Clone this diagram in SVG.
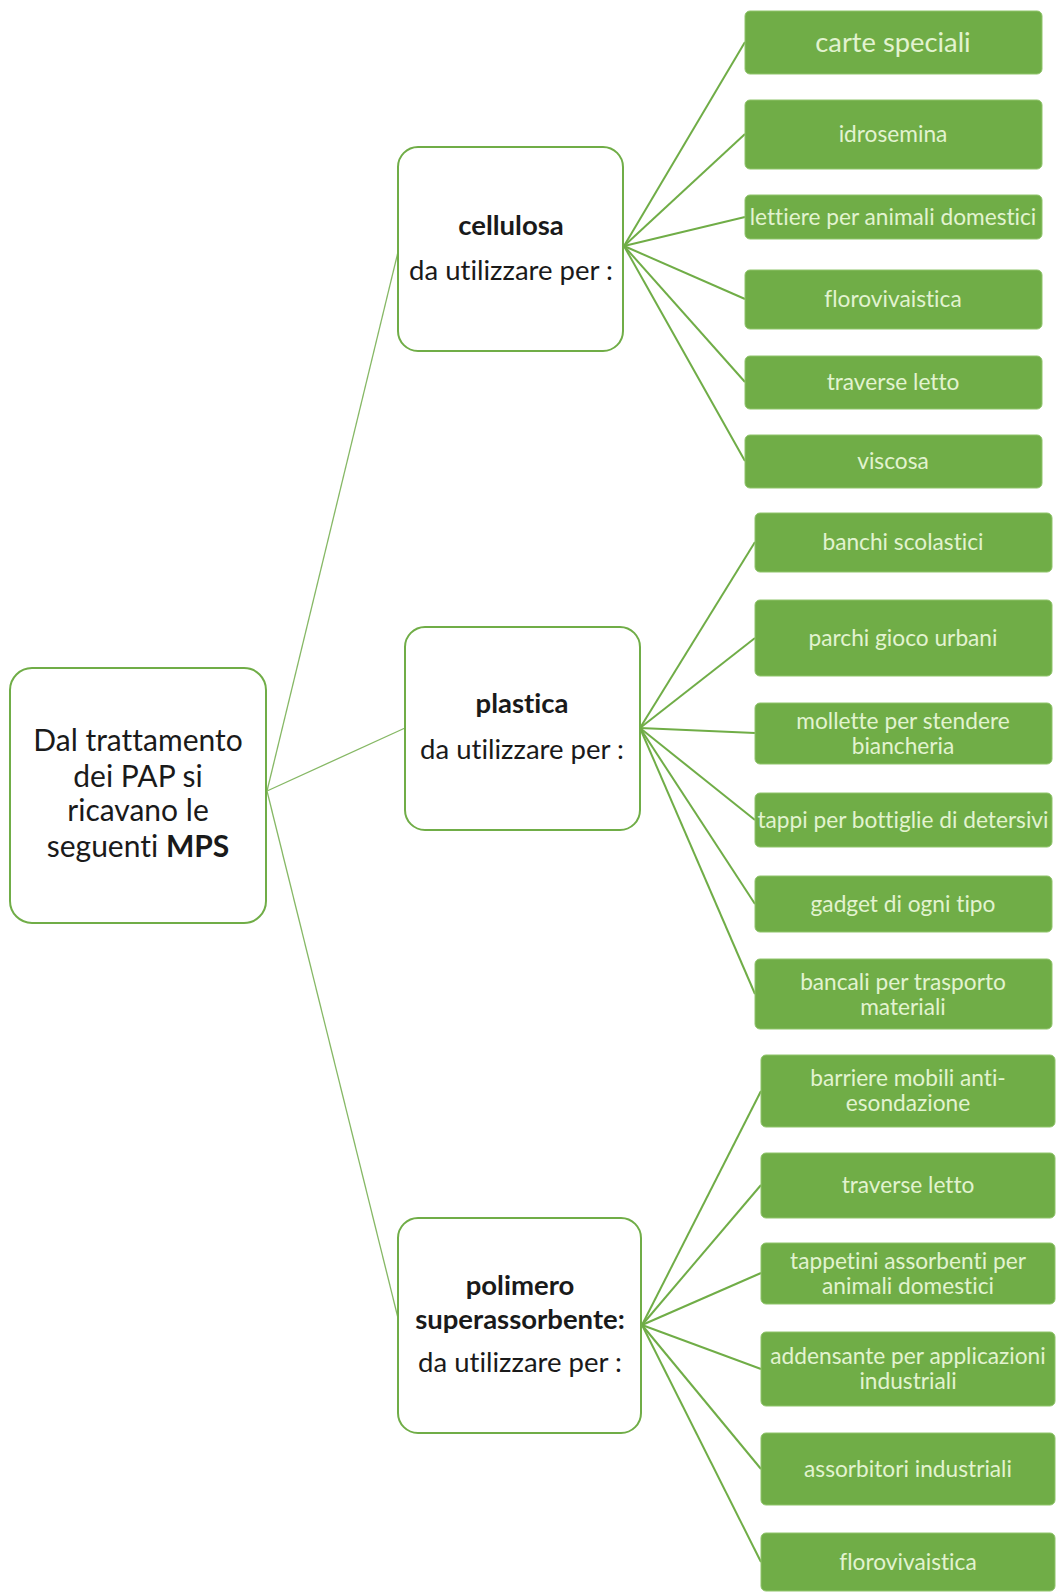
<svg xmlns="http://www.w3.org/2000/svg" width="1056" height="1593" viewBox="0 0 1056 1593">
<style>
.wb{fill:#ffffff;stroke:#70ad47;stroke-width:2}
.gb{fill:#70ad47;stroke:#8fc46a;stroke-width:1}
.bt{font-family:Lato,"Liberation Sans",sans-serif;fill:#1a1a1a;text-anchor:middle;font-variant-ligatures:none;font-size:27.5px}
.gt{font-family:Lato,"Liberation Sans",sans-serif;fill:#e2f3d0;text-anchor:middle;font-size:22.7px;font-variant-ligatures:none}
.b{font-weight:bold}
.rl{stroke:#86b865;stroke-width:1.3;fill:none}
.cl{stroke:#70ad47;stroke-width:2;fill:none}
</style>
<rect width="1056" height="1593" fill="#ffffff"/>
<g id="connectors">
<line class="rl" x1="267" y1="791" x2="398" y2="252"/>
<line class="rl" x1="267" y1="791" x2="405" y2="728"/>
<line class="rl" x1="267" y1="791" x2="398" y2="1318"/>
<line class="cl" x1="624" y1="246" x2="745" y2="42"/>
<line class="cl" x1="624" y1="246" x2="745" y2="134"/>
<line class="cl" x1="624" y1="246" x2="745" y2="217"/>
<line class="cl" x1="624" y1="246" x2="745" y2="299"/>
<line class="cl" x1="624" y1="246" x2="745" y2="382"/>
<line class="cl" x1="624" y1="246" x2="745" y2="461"/>
<line class="cl" x1="640" y1="728" x2="755" y2="542"/>
<line class="cl" x1="640" y1="728" x2="755" y2="638"/>
<line class="cl" x1="640" y1="728" x2="755" y2="733"/>
<line class="cl" x1="640" y1="728" x2="755" y2="820"/>
<line class="cl" x1="640" y1="728" x2="755" y2="904"/>
<line class="cl" x1="640" y1="728" x2="755" y2="994"/>
<line class="cl" x1="642" y1="1325" x2="761" y2="1091"/>
<line class="cl" x1="642" y1="1325" x2="761" y2="1185"/>
<line class="cl" x1="642" y1="1325" x2="761" y2="1273"/>
<line class="cl" x1="642" y1="1325" x2="761" y2="1369"/>
<line class="cl" x1="642" y1="1325" x2="761" y2="1469"/>
<line class="cl" x1="642" y1="1325" x2="761" y2="1562"/>
</g>
<g id="root">
<rect class="wb" x="10" y="668" width="256" height="255" rx="22"/>
<text class="bt" style="font-size:30px"><tspan x="138" y="751">Dal trattamento</tspan><tspan x="138" y="787">dei PAP si</tspan><tspan x="138" y="821">ricavano le</tspan><tspan x="138" y="857">seguenti <tspan class="b">MPS</tspan></tspan></text>
</g>
<g id="cellulosa">
<rect class="wb" x="398" y="147" width="225" height="204" rx="20"/>
<text class="bt b" x="511" y="235">cellulosa</text>
<text class="bt" x="511" y="280">da utilizzare per :</text>
</g>
<g id="plastica">
<rect class="wb" x="405" y="627" width="235" height="203" rx="20"/>
<text class="bt b" x="522" y="713">plastica</text>
<text class="bt" x="522" y="759">da utilizzare per :</text>
</g>
<g id="polimero">
<rect class="wb" x="398" y="1218" width="243" height="215" rx="20"/>
<text class="bt b" x="520" y="1295">polimero</text>
<text class="bt b" x="520" y="1329">superassorbente:</text>
<text class="bt" x="520" y="1372">da utilizzare per :</text>
</g>
<g id="c1"><rect class="gb" x="745" y="11" width="297" height="63" rx="5"/><text class="gt" style="font-size:27.3px" x="893" y="52">carte speciali</text></g>
<g id="c2"><rect class="gb" x="745" y="100" width="297" height="69" rx="5"/><text class="gt" x="893" y="142">idrosemina</text></g>
<g id="c3"><rect class="gb" x="745" y="195" width="297" height="44" rx="5"/><text class="gt" x="893" y="225">lettiere per animali domestici</text></g>
<g id="c4"><rect class="gb" x="745" y="270" width="297" height="59" rx="5"/><text class="gt" x="893" y="307">florovivaistica</text></g>
<g id="c5"><rect class="gb" x="745" y="356" width="297" height="53" rx="5"/><text class="gt" x="893" y="390">traverse letto</text></g>
<g id="c6"><rect class="gb" x="745" y="435" width="297" height="53" rx="5"/><text class="gt" x="893" y="469">viscosa</text></g>
<g id="p1"><rect class="gb" x="755" y="513" width="297" height="59" rx="5"/><text class="gt" x="903" y="550">banchi scolastici</text></g>
<g id="p2"><rect class="gb" x="755" y="600" width="297" height="76" rx="5"/><text class="gt" x="903" y="646">parchi gioco urbani</text></g>
<g id="p3"><rect class="gb" x="755" y="703" width="297" height="61" rx="5"/><text class="gt" x="903" y="729">mollette per stendere</text><text class="gt" x="903" y="754">biancheria</text></g>
<g id="p4"><rect class="gb" x="755" y="793" width="297" height="54" rx="5"/><text class="gt" x="903" y="828">tappi per bottiglie di detersivi</text></g>
<g id="p5"><rect class="gb" x="755" y="876" width="297" height="56" rx="5"/><text class="gt" x="903" y="912">gadget di ogni tipo</text></g>
<g id="p6"><rect class="gb" x="755" y="959" width="297" height="70" rx="5"/><text class="gt" x="903" y="990">bancali per trasporto</text><text class="gt" x="903" y="1015">materiali</text></g>
<g id="s1"><rect class="gb" x="761" y="1055" width="294" height="72" rx="5"/><text class="gt" x="908" y="1086">barriere mobili anti-</text><text class="gt" x="908" y="1111">esondazione</text></g>
<g id="s2"><rect class="gb" x="761" y="1153" width="294" height="65" rx="5"/><text class="gt" x="908" y="1193">traverse letto</text></g>
<g id="s3"><rect class="gb" x="761" y="1243" width="294" height="61" rx="5"/><text class="gt" x="908" y="1269">tappetini assorbenti per</text><text class="gt" x="908" y="1294">animali domestici</text></g>
<g id="s4"><rect class="gb" x="761" y="1332" width="294" height="74" rx="5"/><text class="gt" x="908" y="1364">addensante per applicazioni</text><text class="gt" x="908" y="1389">industriali</text></g>
<g id="s5"><rect class="gb" x="761" y="1433" width="294" height="72" rx="5"/><text class="gt" x="908" y="1477">assorbitori industriali</text></g>
<g id="s6"><rect class="gb" x="761" y="1533" width="294" height="58" rx="5"/><text class="gt" x="908" y="1570">florovivaistica</text></g>
</svg>
